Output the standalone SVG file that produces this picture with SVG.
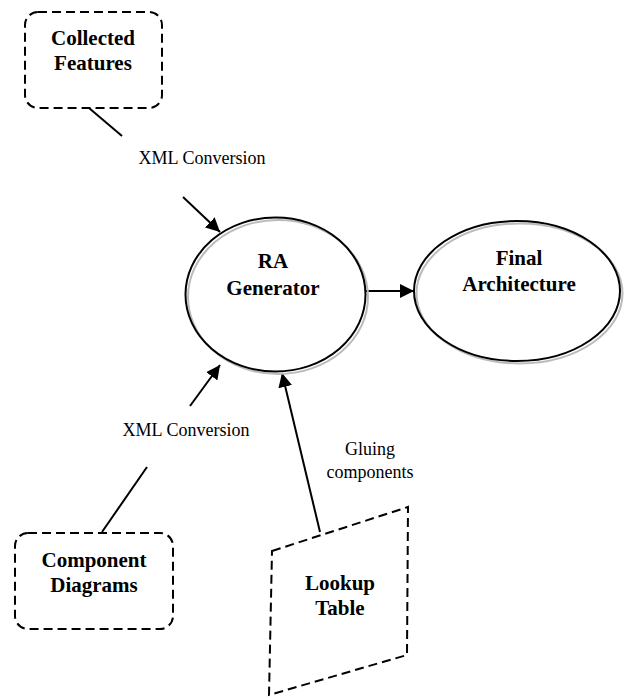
<svg xmlns="http://www.w3.org/2000/svg" width="626" height="698" viewBox="0 0 626 698">
<style>
.dash{fill:#fff;stroke:#000;stroke-width:2;stroke-dasharray:9 5}
.fillw{fill:#fff;stroke:none}
.ell{fill:none;stroke:#000;stroke-width:2}
.shadow{fill:none;stroke:#bbb;stroke-width:2}
.line{stroke:#000;stroke-width:2;fill:none}
.t{font-family:"Liberation Serif","Times New Roman",serif;font-size:21px;font-weight:bold;text-anchor:middle;fill:#000}
.lbl{font-family:"Liberation Serif","Times New Roman",serif;font-size:18px;text-anchor:middle;fill:#000}
</style>
<defs>
<marker id="ah" viewBox="0 0 10 10" refX="10" refY="5" markerWidth="7" markerHeight="7" markerUnits="strokeWidth" orient="auto">
<path d="M0,0 L10,5 L0,10 z" fill="#000"/>
</marker>
</defs>
<rect width="626" height="698" fill="#fff"/>
<g id="connectors">
<line class="line" x1="89" y1="108" x2="122" y2="136"/>
<line class="line" x1="183" y1="197" x2="220" y2="232" marker-end="url(#ah)"/>
<line class="line" x1="366" y1="291" x2="414" y2="291" marker-end="url(#ah)"/>
<line class="line" x1="190" y1="406" x2="220" y2="365" marker-end="url(#ah)"/>
<line class="line" x1="147" y1="467" x2="102" y2="532"/>
<line class="line" x1="320" y1="532" x2="282" y2="373" marker-end="url(#ah)"/>
<text class="lbl" x="202" y="164">XML Conversion</text>
<text class="lbl" x="186" y="436">XML Conversion</text>
<text class="lbl" x="370" y="455">Gluing</text>
<text class="lbl" x="370" y="478">components</text>
</g>
<g id="collected-features">
<rect class="dash" x="25" y="12" width="137" height="96" rx="13"/>
<text class="t" x="93" y="45">Collected</text>
<text class="t" x="93" y="70">Features</text>
</g>
<g id="ra-generator">
<ellipse class="fillw" cx="275.5" cy="294.5" rx="90" ry="77"/>
<ellipse class="shadow" cx="278" cy="297" rx="90" ry="77"/>
<ellipse class="ell" cx="275.5" cy="294.5" rx="90" ry="77"/>
<text class="t" x="273" y="268">RA</text>
<text class="t" x="273" y="295">Generator</text>
</g>
<g id="final-architecture">
<ellipse class="fillw" cx="517" cy="291" rx="103" ry="70"/>
<ellipse class="shadow" cx="519.5" cy="293.5" rx="103" ry="70"/>
<ellipse class="ell" cx="517" cy="291" rx="103" ry="70"/>
<text class="t" x="519" y="265">Final</text>
<text class="t" x="519" y="291">Architecture</text>
</g>
<g id="component-diagrams">
<rect class="dash" x="15" y="533" width="158" height="96" rx="13"/>
<text class="t" x="94" y="567">Component</text>
<text class="t" x="94" y="592">Diagrams</text>
</g>
<g id="lookup-table">
<path class="dash" d="M272,551 L408,507 L407,655 L269,695 Z"/>
<text class="t" x="340" y="590">Lookup</text>
<text class="t" x="340" y="615">Table</text>
</g>
</svg>
